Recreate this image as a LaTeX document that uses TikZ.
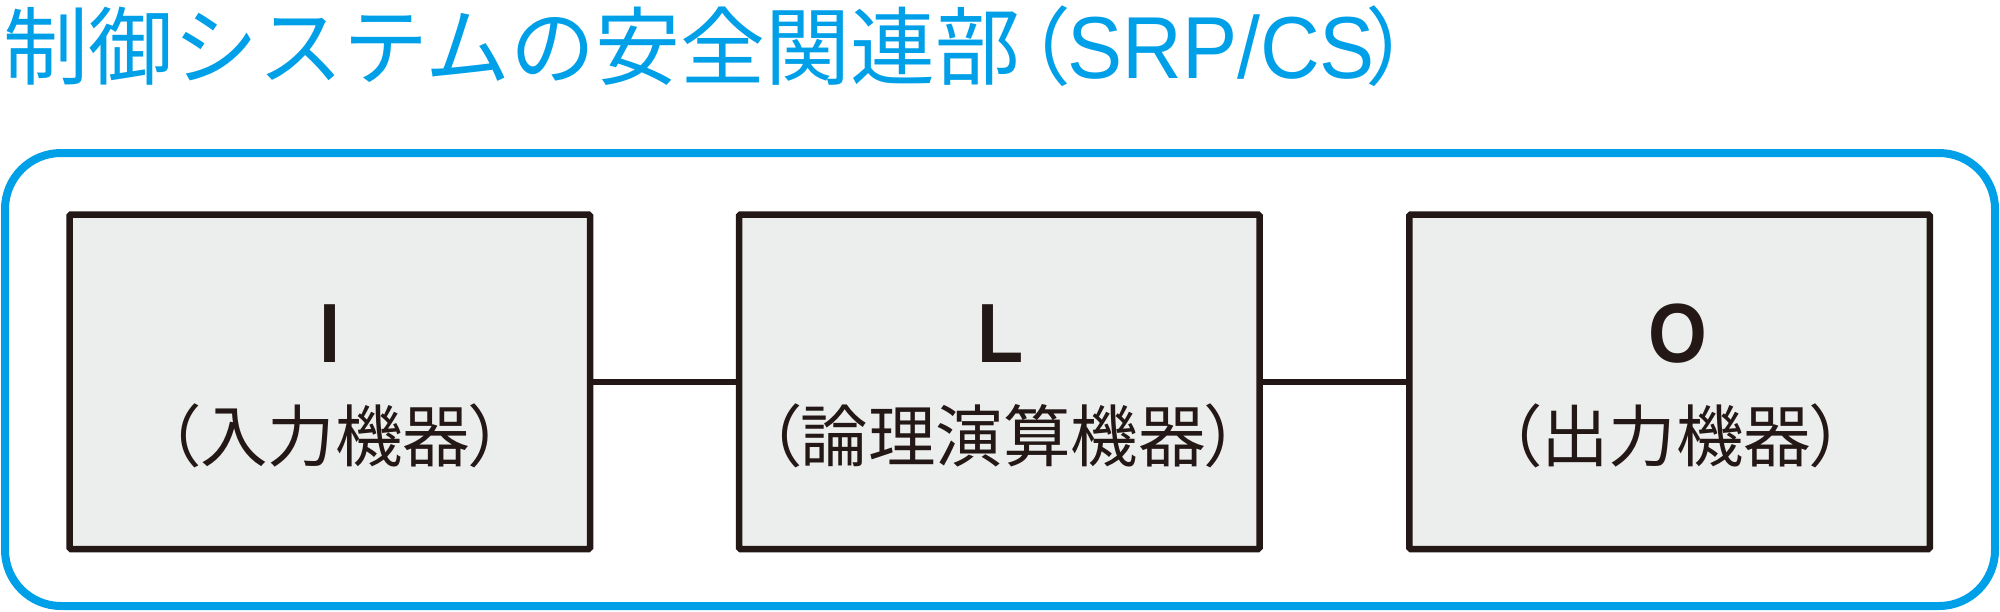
\documentclass[tikz,border=0pt]{standalone}
\usepackage{fontspec}
\newfontfamily\jp{Noto Sans CJK JP}
\newfontfamily\jpp[RawFeature=+palt]{Noto Sans CJK JP}
\newfontfamily\lat[FakeStretch=0.94]{Liberation Sans}
\newfontfamily\latb[FakeStretch=0.9]{Liberation Sans}
\definecolor{srpblue}{RGB}{0,160,233}
\definecolor{ink}{RGB}{35,24,21}
\definecolor{boxgray}{RGB}{236,238,237}
\tikzset{
  outerbox/.style={draw=srpblue, line width=8pt, rounded corners=56pt, inner sep=0pt, minimum width=1990pt, minimum height=453pt},
  blk/.style={draw=ink, fill=boxgray, line width=6.5pt, rounded corners=1.5pt, inner sep=0pt, minimum width=520.5pt, minimum height=334.5pt},
  conn/.style={draw=ink, line width=6pt},
  letter/.style={text=ink, inner sep=0pt, anchor=base, font=\latb\bfseries\fontsize{84}{90}\selectfont},
  jlabel/.style={text=ink, inner sep=0pt, anchor=base, font=\jpp\fontsize{67.5}{72}\selectfont},
  titlestyle/.style={text=srpblue, inner sep=0pt, anchor=base west}
}
\begin{document}
\begin{tikzpicture}[x=1pt,y=-1pt]
\useasboundingbox (0,0) rectangle (2000,611);
\node[titlestyle] (title) at (3,78) {\fontsize{85}{90}\selectfont\jp 制御システムの安全関連部\hspace{5pt}{\jpp （}\hspace{-1pt}{\lat\fontsize{88}{90}\selectfont SRP/CS}\hspace{-7pt}{\jpp ）}};
\node[outerbox] (srp) at (1000,379.5) {};
\node[blk] (I) at (329.75,381.75) {};
\node[blk] (L) at (999.25,381.75) {};
\node[blk] (O) at (1669.5,381.75) {};
\draw[conn] (I.east) -- (L.west);
\draw[conn] (L.east) -- (O.west);
\node[letter] (Ilet) at (329.75,362) {I};
\node[letter] (Llet) at (1001,362) {L};
\node[letter] (Olet) at (1677.5,362) {O};
\node[jlabel] (Ilab) at (335,461) {（入力機器）};
\node[jlabel] (Llab) at (1003,461) {（論理演算機器）};
\node[jlabel] (Olab) at (1676,461) {（出力機器）};
\end{tikzpicture}
\end{document}
